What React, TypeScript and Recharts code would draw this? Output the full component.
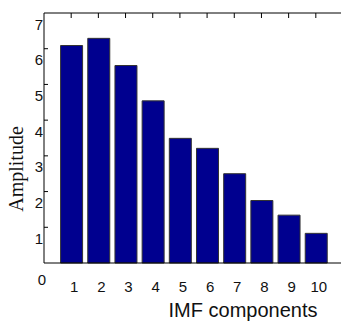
import { Bar, BarChart, XAxis, YAxis, Label } from "recharts"

const components = [1, 2, 3, 4, 5, 6, 7, 8, 9, 10]
const amplitudes = [6.09, 6.29, 5.53, 4.54, 3.49, 3.21, 2.5, 1.75, 1.34, 0.83]
const yTicks = [0, 1, 2, 3, 4, 5, 6, 7]
const rightTicks = [1, 2, 3, 4, 5, 6]

const data = components.map((c, i) => ({ x: c, amp: amplitudes[i] }))

const sans = "'Liberation Sans', Arial, sans-serif"
const serif = "'Liberation Serif', 'Times New Roman', serif"

const NoTick = () => <g />

function LeftTick(props: any) {
  const { y, payload } = props
  const v = payload.value
  if (v === 0) {
    return (
      <text x={42} y={279} textAnchor="middle" dominantBaseline="central" fontFamily={sans} fontSize={15} fill="#111">
        0
      </text>
    )
  }
  return (
    <g>
      {v < 7 && <line x1={44} x2={48} y1={y} y2={y} stroke="#000" />}
      <text x={39} y={y + 11} textAnchor="middle" dominantBaseline="central" fontFamily={sans} fontSize={15} fill="#111">
        {v}
      </text>
    </g>
  )
}

function BottomTick(props: any) {
  const { x, payload } = props
  return (
    <text x={x + 3} y={286} textAnchor="middle" dominantBaseline="central" fontFamily={sans} fontSize={15} fill="#111">
      {payload.value}
    </text>
  )
}

export default function App() {
  return (
    <div style={{ width: 341, height: 321, overflow: "hidden", background: "#fff" }}>
      <style>{`body{margin:0}`}</style>
      <BarChart width={345} height={321} data={data} margin={{ top: 13, right: 2, bottom: 0, left: 0 }}>
        <XAxis
          dataKey="x"
          type="number"
          domain={[0, 11]}
          ticks={components}
          height={58}
          tickLine={false}
          axisLine={{ stroke: "#000" }}
          tick={<BottomTick />}
        >
          <Label
            content={() => (
              <text x={243} y={317} textAnchor="middle" fontFamily={sans} fontSize={20} fill="#111">
                IMF components
              </text>
            )}
          />
        </XAxis>
        <XAxis
          xAxisId="top"
          dataKey="x"
          orientation="top"
          type="number"
          domain={[0, 11]}
          ticks={components}
          height={13}
          mirror
          tickSize={5}
          tickLine={{ stroke: "#000" }}
          axisLine={{ stroke: "#000" }}
          tick={<NoTick />}
        />
        <YAxis
          type="number"
          domain={[0, 7]}
          ticks={yTicks}
          width={44}
          tickLine={false}
          axisLine={{ stroke: "#000" }}
          tick={<LeftTick />}
        >
          <Label
            content={() => (
              <text
                x={16}
                y={169}
                transform="rotate(-90 16 169)"
                textAnchor="middle"
                dominantBaseline="central"
                fontFamily={serif}
                fontSize={20}
                fill="#111"
              >
                Amplitude
              </text>
            )}
          />
        </YAxis>
        <YAxis
          yAxisId="right"
          orientation="right"
          type="number"
          domain={[0, 7]}
          ticks={rightTicks}
          width={2}
          mirror
          tickSize={6}
          tickLine={{ stroke: "#000" }}
          axisLine={{ stroke: "#000" }}
          tick={<NoTick />}
        />
        <Bar dataKey="amp" fill="#00008F" stroke="#333" strokeWidth={1} barSize={22} isAnimationActive={false} />
      </BarChart>
    </div>
  )
}
